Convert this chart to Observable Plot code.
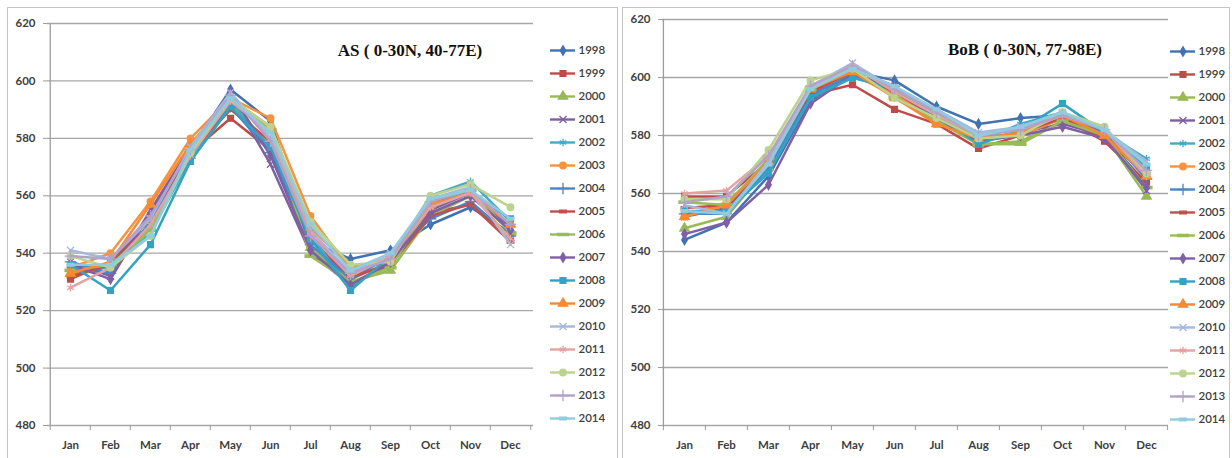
<!DOCTYPE html>
<html><head><meta charset="utf-8">
<script src="https://cdn.jsdelivr.net/npm/d3@7"></script>
<script src="https://cdn.jsdelivr.net/npm/@observablehq/plot@0.6"></script>
<style>
html,body{margin:0;padding:0;background:#fff;}
#root{position:relative;width:1232px;height:458px;overflow:hidden;background:#fff;}
.panel{position:absolute;border:1px solid #c4c4c4;box-sizing:border-box;background:#fff;}
.abs{position:absolute;}
.title{position:absolute;font-family:"Liberation Serif","Times New Roman",serif;font-weight:bold;font-size:17px;color:#111;white-space:nowrap;transform:translate(-50%,-50%);}
</style></head><body><div id="root"></div>
<script>
const months = ["Jan","Feb","Mar","Apr","May","Jun","Jul","Aug","Sep","Oct","Nov","Dec"];
const years = ["1998","1999","2000","2001","2002","2003","2004","2005","2006","2007","2008","2009","2010","2011","2012","2013","2014"];
const yTicks = [480,500,520,540,560,580,600,620];
const titles = ["AS ( 0-30N, 40-77E)", "BoB ( 0-30N, 77-98E)"];

// AS panel, one row per year (Jan..Dec)
const asSeries = [
  [535,536,550,576,597,586,544,538,541,550,556,547],
  [531,537,552,575,587,576,545,531,537,554,557,546],
  [533,534,549,574,592,578,542,530,534,553,560,548],
  [537,532,555,577,595,571,540,529,536,555,561,549],
  [534,535,547,573,593,576,546,528,538,560,565,551],
  [535,540,558,580,594,587,553,534,537,556,562,550],
  [537,533,551,576,591,575,543,531,539,552,558,546],
  [532,536,553,575,590,579,547,532,536,553,557,544],
  [534,536,548,575,593,583,539,530,535,557,562,547],
  [536,531,554,577,596,574,541,529,537,554,560,548],
  [536,527,543,572,591,577,545,527,539,558,561,552],
  [533,537,557,578,594,584,549,535,538,557,561,550],
  [541,538,552,577,596,580,548,533,540,559,563,543],
  [528,535,550,574,593,582,547,532,539,556,561,545],
  [539,535,546,575,594,584,551,536,537,560,564,556],
  [539,538,553,576,595,579,546,533,538,558,562,550],
  [536,536,546,576,594,582,550,534,540,559,562,552]
];

// BoB panel, one row per year (Jan..Dec)
const bobSeries = [
  [544,550,566,592,602,599,590,584,586,587,580,563],
  [559,559,571,594,597.5,589,584,575.5,580,586,578,564],
  [548,552,569,595,601,594,585,577,578,585,580,559],
  [552,555,570,594,603,597,587,579,581,584,580,561],
  [553,554,568,593,600,596,587,578,584,588,581,572],
  [552,557,570,595,602,594,585,579,580,586,580,566],
  [553,553,569,594,601,597,588,580,583,587,581,565],
  [555,556,571,595,602,595,586,578,581,586,579,567],
  [557,556,572,596,603,593,585,577,577,585,580,562],
  [546,550,563,591,601,596,586,578,580,583,579,562],
  [554,554,567,593,600,596,587,577,582,591,581,569],
  [552,556,571,596,602,593,584,579,581,587,580,566],
  [556,553,571,597,605,596,589,581,583,588,582,571],
  [560,561,573,597,604,595,587,580,582,587,582,566],
  [558,558,575,599,603,593,586,579,580,588,583,567],
  [557,559,573,597,604,596,588,580,582,587,582,568],
  [554,553,570,596,603,597,589,580,583,588,582,570]
];

// styles
const palette = ["#4272b0","#be4b48","#98b954","#7d60a0","#46aac5","#f69240","#4a86c8","#c0504d","#9bbb59","#7f5fa5","#33a3c4","#f58a32","#a5b8de","#e3a3a1","#bcd28e","#b3a2c7","#8fcce0"];
const dash = {draw(ctx, size){ const w = Math.sqrt(size)*0.55; ctx.rect(-w,-1.3,2*w,2.6); }};
const longDash = {draw(ctx, size){ const w = Math.sqrt(size)*0.9; ctx.rect(-w,-1.2,2*w,2.4); }};
const cycle = ["diamond","square","triangle","times","asterisk","circle","plus",dash,longDash];
const cycleR = [2.9,3.3,3.5,3.3,3.6,3.3,3.8,3.4,3.4];
const markers = years.map((_, i) => cycle[i % cycle.length]);
const markerR = years.map((_, i) => cycleR[i % cycleR.length]);
const axisColor = "#9c9c9c";
const textColor = "#404040";
const font = {fontFamily: "Lato, 'Open Sans', sans-serif", fontSize: "11.5px", fontWeight: "bold", background: "transparent", overflow: "visible"};

function chart(series, dims) {
  const rows = [];
  years.forEach((yr, i) => months.forEach((m, j) => rows.push({year: yr, month: m, value: series[i][j]})));
  const step = (dims.width - dims.marginLeft - dims.marginRight) / months.length;
  const marks = [
    Plot.gridY({ticks: yTicks, stroke: "#a6a6a6", strokeOpacity: 1, strokeWidth: 1.3}),
    Plot.ruleX([months[0]], {x: d => d, dx: -step/2, stroke: axisColor, strokeWidth: 1.3}),
    Plot.axisY({ticks: yTicks, tickSize: 4, tickPadding: 8, stroke: axisColor, fill: textColor, tickFormat: d => String(d), label: null}),
    Plot.axisX({ticks: months, tickSize: 0, tickPadding: 15, fill: textColor, label: null}),
    Plot.axisX({ticks: months, tickSize: 5, dx: -step/2, tickFormat: () => "", stroke: axisColor, label: null}),
    Plot.axisX({ticks: [months[months.length-1]], tickSize: 5, dx: step/2, tickFormat: () => "", stroke: axisColor, label: null})
  ];
  years.forEach((yr, i) => {
    const d = rows.filter(r => r.year === yr);
    marks.push(Plot.line(d, {x: "month", y: "value", stroke: palette[i], strokeWidth: 2.5}));
    marks.push(Plot.dot(d, {x: "month", y: "value", symbol: markers[i], fill: palette[i], stroke: palette[i], strokeWidth: 1.3, r: markerR[i]}));
  });
  return Plot.plot({
    ...dims,
    style: font,
    x: {type: "point", domain: months, padding: 0.5, axis: null},
    y: {domain: [480, 620], axis: null},
    marks
  });
}

function legend(dims) {
  const marks = [];
  years.forEach((yr, i) => {
    marks.push(Plot.ruleY([yr], {y: d => d, x1: 0, x2: 1, stroke: palette[i], strokeWidth: 2.4}));
    marks.push(Plot.dot([yr], {y: d => d, x: 0.5, symbol: markers[i], fill: palette[i], stroke: palette[i], strokeWidth: 1.3, r: markerR[i]}));
  });
  marks.push(Plot.text(years, {y: d => d, x: 1, text: d => d, textAnchor: "start", dx: 3, fill: textColor}));
  return Plot.plot({
    ...dims,
    style: {...font, fontWeight: "600"},
    x: {domain: [0, 1], axis: null},
    y: {type: "point", domain: years, padding: 0.5, axis: null},
    marks
  });
}

const root = document.getElementById("root");
function place(el, left, top) { el.classList.add("abs"); el.style.left = left + "px"; el.style.top = top + "px"; root.appendChild(el); }
function panel(left, top, w, h) { const d = document.createElement("div"); d.className = "panel"; d.style.left = left+"px"; d.style.top = top+"px"; d.style.width = w+"px"; d.style.height = h+"px"; root.appendChild(d); }
function title(text, cx, cy) { const d = document.createElement("div"); d.className = "title"; d.textContent = text; d.style.left = cx+"px"; d.style.top = cy+"px"; root.appendChild(d); }

panel(7, 7, 611, 470);
panel(622, 7, 608, 470);

place(chart(asSeries, {width: 540, height: 458, marginLeft: 47, marginRight: 7, marginTop: 23, marginBottom: 33}), 0, 0);
place(legend({width: 75, height: 401, marginLeft: 5, marginRight: 45, marginTop: 0, marginBottom: 0}), 545, 33);
title(titles[0], 410, 51);

place(chart(bobSeries, {width: 560, height: 458, marginLeft: 47, marginRight: 7, marginTop: 19, marginBottom: 33}), 615, 0);
place(legend({width: 75, height: 404, marginLeft: 5, marginRight: 45, marginTop: 0, marginBottom: 0}), 1165, 33);
title(titles[1], 1025, 50);
</script>
</body></html>
